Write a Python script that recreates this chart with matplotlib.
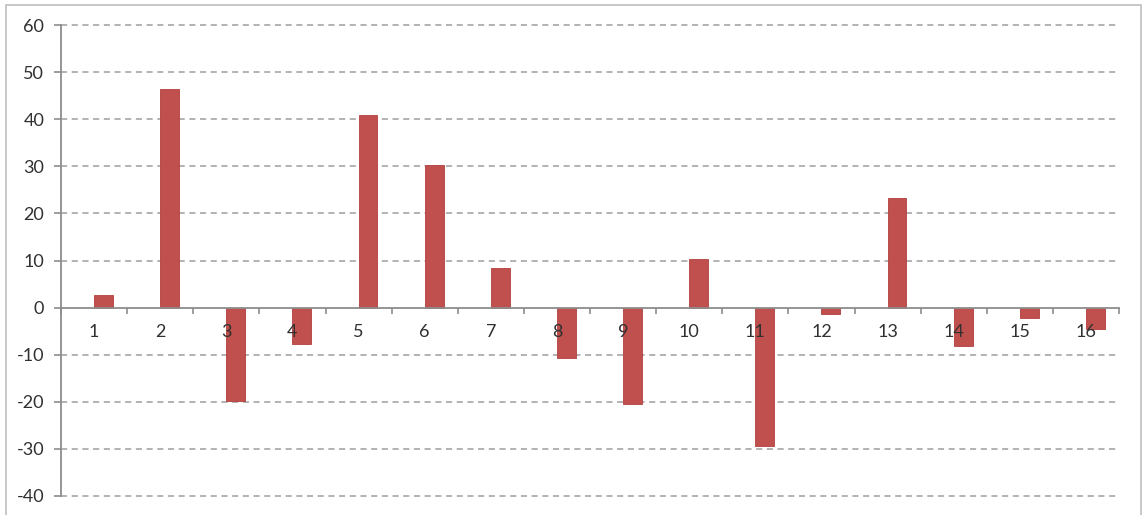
import numpy as np
import matplotlib
matplotlib.use('Agg')
import matplotlib.pyplot as plt
from matplotlib.patches import Rectangle

plt.rcParams['font.family'] = ['Lato', 'DejaVu Sans']

# ── Data ─────────────────────────────────────────────────────────────────────
categories = [str(i) for i in range(1, 17)]
values = [2.7, 46.4, -19.8, -7.7, 40.9, 30.3, 8.4, -10.6,
          -20.4, 10.3, -29.3, -1.3, 23.3, -8.1, -2.2, -4.6]
y_ticks = [-40, -30, -20, -10, 0, 10, 20, 30, 40, 50, 60]

BAR_COLOR = '#C0504D'
AXIS_COLOR = '#8C8C8C'
GRID_COLOR = '#9E9E9E'
TEXT_COLOR = '#303030'

# ── Plot ─────────────────────────────────────────────────────────────────────
W, H = 1144, 515
fig = plt.figure(figsize=(W / 100, H / 100), dpi=100)
fig.patch.set_facecolor('white')

# light frame round the whole chart
fig.patches.append(Rectangle((6 / W, -0.05), (1141 - 6) / W, 1.05 - 5 / H,
                             transform=fig.transFigure, fill=False,
                             edgecolor='#BFBFBF', linewidth=1.2))

ax = fig.add_axes([61 / W, 19 / H, (1119 - 61) / W, 471 / H])
ax.set_axisbelow(False)   # category labels sit on top of the bars
x = np.arange(1, len(values) + 1)

# two-series layout with gap 150%: visible series sits right of centre
bar_w = 1 / 3.5
ax.bar(x + bar_w / 2, values, width=bar_w, color=BAR_COLOR,
       edgecolor='#B3403D', linewidth=0.6, zorder=2)

ax.set_xlim(0.5, len(values) + 0.5)
ax.set_ylim(-40, 60)

# dashed horizontal gridlines
for t in y_ticks:
    if t != 0:
        ax.axhline(t, color=GRID_COLOR, linestyle=(0, (4, 3)),
                   linewidth=1.1, zorder=1, clip_on=False)

for side in ('top', 'right'):
    ax.spines[side].set_visible(False)
ax.spines['left'].set_color(AXIS_COLOR)
ax.spines['left'].set_linewidth(1.3)
ax.spines['bottom'].set_position(('data', 0))
ax.spines['bottom'].set_color(AXIS_COLOR)
ax.spines['bottom'].set_linewidth(1.3)

ax.set_yticks(y_ticks)
ax.set_yticklabels([str(t) for t in y_ticks])
ax.tick_params(axis='y', direction='out', length=5, width=1.2,
               color=AXIS_COLOR, pad=7, labelsize=13, labelcolor=TEXT_COLOR)

# tick marks on category boundaries, labels on category centres
ax.set_xticks(np.arange(0.5, len(values) + 1, 1.0))
ax.set_xticklabels([])
ax.tick_params(axis='x', which='major', direction='out', length=4,
               width=1.2, color=AXIS_COLOR)
ax.set_xticks(x, minor=True)
ax.set_xticklabels(categories, minor=True)
ax.tick_params(axis='x', which='minor', length=0, pad=12,
               labelsize=13, labelcolor=TEXT_COLOR)

fig.savefig('out.png', dpi=100)
